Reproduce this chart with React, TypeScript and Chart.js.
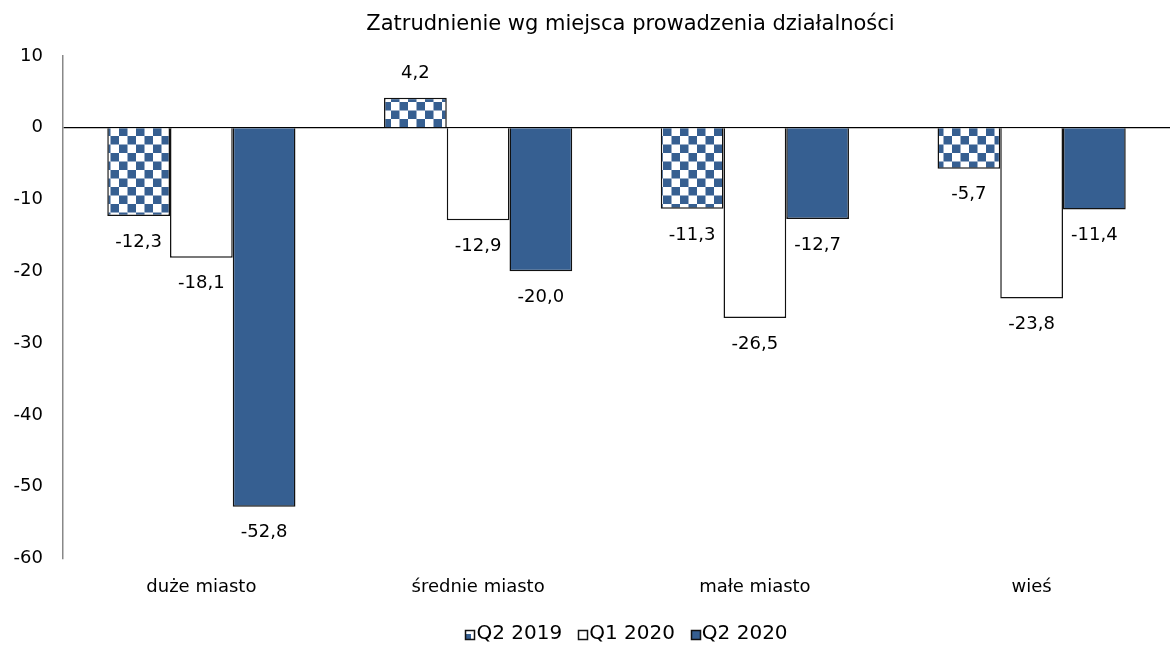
import React, { useEffect, useRef } from "react";
import { Chart, registerables } from "chart.js";

Chart.register(...registerables);

const categories = ["duże miasto", "średnie miasto", "małe miasto", "wieś"];
const seriesNames = ["Q2 2019", "Q1 2020", "Q2 2020"];
const q2019 = [-12.3, 4.2, -11.3, -5.7];
const q1_2020 = [-18.1, -12.9, -26.5, -23.8];
const q2_2020 = [-52.8, -20.0, -12.7, -11.4];
const yTicks = [10, 0, -10, -20, -30, -40, -50, -60];
const titleText = "Zatrudnienie wg miejsca prowadzenia działalności";

const BLUE = "#365F91";
const FONT = "'DejaVu Sans', sans-serif";

function makePattern(): CanvasPattern | string {
  const c = document.createElement("canvas");
  const s = 8.5;
  c.width = 17;
  c.height = 17;
  const ctx = c.getContext("2d");
  if (!ctx) return BLUE;
  ctx.fillStyle = "#ffffff";
  ctx.fillRect(0, 0, 17, 17);
  ctx.fillStyle = BLUE;
  ctx.fillRect(s, 0, s, s);
  ctx.fillRect(0, s, s, s);
  return ctx.createPattern(c, "repeat") || BLUE;
}

const labelPlugin = {
  id: "valueLabels",
  afterDatasetsDraw(chart: any) {
    const ctx = chart.ctx;
    ctx.save();
    ctx.font = `18px ${FONT}`;
    ctx.fillStyle = "#000";
    ctx.textAlign = "center";
    ctx.textBaseline = "middle";
    chart.data.datasets.forEach((ds: any, i: number) => {
      const meta = chart.getDatasetMeta(i);
      meta.data.forEach((el: any, j: number) => {
        const v = ds.data[j] as number;
        const txt = v.toFixed(1).replace(".", ",");
        const y = v < 0 ? el.y + 26 : el.y - 24;
        ctx.fillText(txt, el.x, y);
      });
    });
    ctx.restore();
  },
};

const titlePlugin = {
  id: "customTitle",
  afterDraw(chart: any) {
    const ctx = chart.ctx;
    const ca = chart.chartArea;
    ctx.save();
    ctx.font = `21px ${FONT}`;
    ctx.fillStyle = "#000";
    ctx.textAlign = "center";
    ctx.textBaseline = "middle";
    ctx.fillText(titleText, (ca.left + ca.right) / 2 + 14, 24.5);
    ctx.restore();
  },
};

const legendPlugin = {
  id: "customLegend",
  afterDraw(chart: any) {
    const ctx = chart.ctx;
    ctx.save();
    ctx.font = `20px ${FONT}`;
    ctx.textBaseline = "middle";
    ctx.textAlign = "left";
    const box = 9;
    const gapText = 2;
    const gapItem = 16;
    const items = chart.data.datasets.map((ds: any) => ({
      label: ds.label as string,
      w: box + gapText + ctx.measureText(ds.label).width,
    }));
    const total = items.reduce((a: number, b: any) => a + b.w, 0) + gapItem * (items.length - 1);
    const ca = chart.chartArea;
    let x = (ca.left + ca.right) / 2 + 10 - total / 2;
    const yc = chart.height - 12;
    items.forEach((it: any, i: number) => {
      const bx = Math.round(x) + 0.5;
      const by = Math.round(yc - box / 2) + 0.5;
      ctx.fillStyle = "#fff";
      ctx.fillRect(bx, by, box, box);
      if (i === 0) {
        ctx.fillStyle = BLUE;
        ctx.fillRect(bx, by + box / 2 - 1, box / 2 + 1, box / 2 + 1);
      } else if (i === 2) {
        ctx.fillStyle = BLUE;
        ctx.fillRect(bx, by, box, box);
      }
      ctx.strokeStyle = "#111";
      ctx.lineWidth = 1.5;
      ctx.strokeRect(bx, by, box, box);
      ctx.fillStyle = "#000";
      ctx.fillText(it.label, x + box + gapText, yc);
      x += it.w + gapItem;
    });
    ctx.restore();
  },
};

export default function App() {
  const ref = useRef<HTMLCanvasElement>(null);
  useEffect(() => {
    document.body.style.margin = "0";
    if (!ref.current) return;
    const pattern = makePattern();
    const chart = new Chart(ref.current, {
      type: "bar",
      data: {
        labels: categories,
        datasets: [
          { label: seriesNames[0], data: q2019, backgroundColor: pattern as any, borderColor: "#111", borderWidth: 1.5 },
          { label: seriesNames[1], data: q1_2020, backgroundColor: "#ffffff", borderColor: "#111", borderWidth: 1.5 },
          { label: seriesNames[2], data: q2_2020, backgroundColor: BLUE, borderColor: "#111", borderWidth: 1.5 },
        ],
      },
      options: {
        animation: false,
        responsive: false,
        maintainAspectRatio: false,
        layout: { padding: { left: 0, right: 2, top: 56, bottom: 30 } },
        datasets: { bar: { barPercentage: 1, categoryPercentage: 0.68 } },
        plugins: {
          title: { display: false },
          legend: { display: false },
          tooltip: { enabled: false },
        },
        scales: {
          x: {
            grid: { display: false, drawTicks: false },
            border: { display: false },
            ticks: { font: { family: FONT, size: 18 }, color: "#000", padding: 18 },
          },
          y: {
            min: -60,
            max: 10,
            afterBuildTicks: (scale: any) => {
              scale.ticks = yTicks.map((v) => ({ value: v }));
            },
            afterFit: (scale: any) => {
              scale.width = 63;
            },
            grid: {
              drawTicks: false,
              color: (c: any) => (c.tick && c.tick.value === 0 ? "#000" : "rgba(0,0,0,0)"),
              lineWidth: 1.2,
            },
            border: { display: true, color: "#888", width: 1.5 },
            ticks: { font: { family: FONT, size: 18 }, color: "#000", padding: 20 },
          },
        },
      },
      plugins: [labelPlugin, titlePlugin, legendPlugin],
    });
    return () => chart.destroy();
  }, []);
  return (
    <div style={{ width: 1172, height: 646 }}>
      <canvas ref={ref} width={1172} height={646} style={{ width: 1172, height: 646, display: "block" }} />
    </div>
  );
}
